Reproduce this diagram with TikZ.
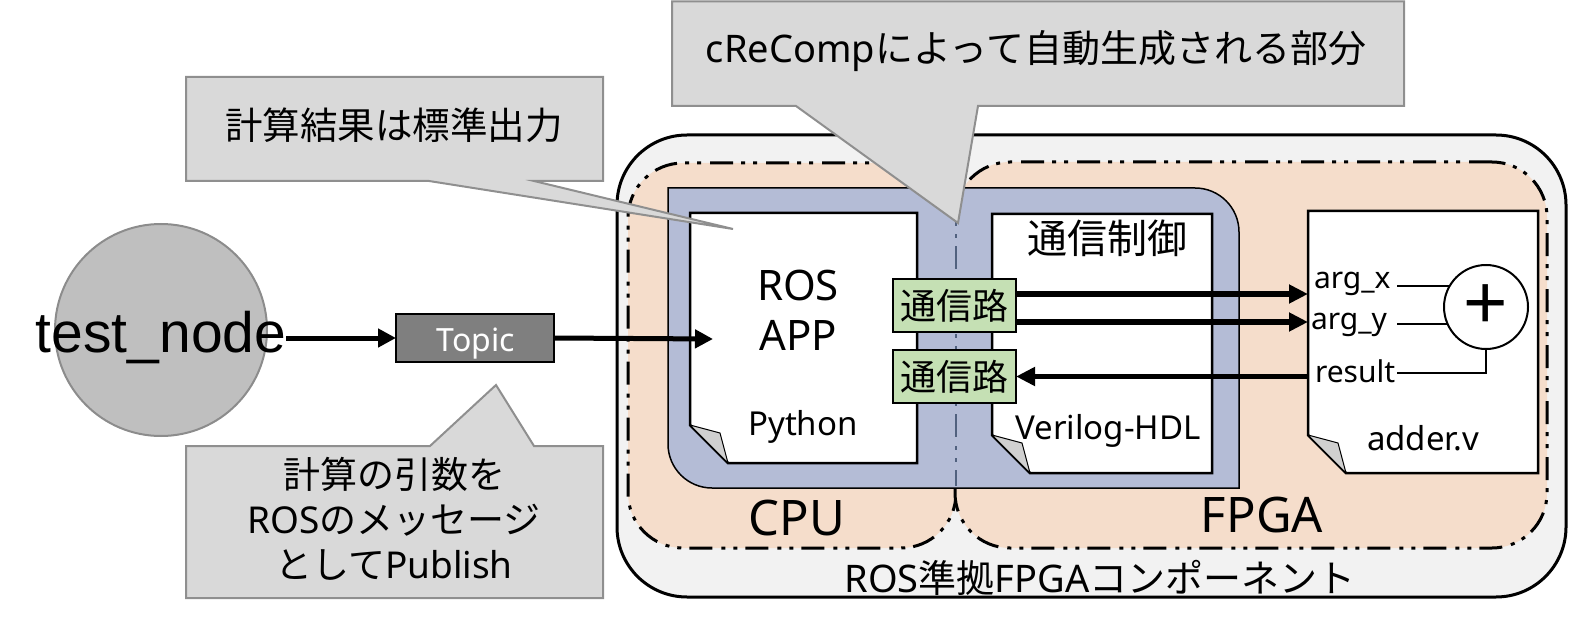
\documentclass[tikz,border=0pt]{standalone}
\usepackage{fontspec}
\setmainfont{Noto Sans}
\newfontfamily\jp{Noto Sans CJK JP}
\newfontfamily\arialf{Liberation Sans}
\usetikzlibrary{arrows.meta,calc}
\pgfdeclarelayer{fg}
\pgfsetlayers{main,fg}
\definecolor{outerfill}{HTML}{F2F2F2}
\definecolor{zonefill}{HTML}{F5DDCB}
\definecolor{bluefill}{HTML}{B4BCD6}
\definecolor{chanfill}{HTML}{C5E0B4}
\definecolor{foldfill}{HTML}{D0D0D0}
\definecolor{calloutfill}{HTML}{D9D9D9}
\definecolor{calloutline}{HTML}{8F8F8F}
\definecolor{dashblue}{HTML}{51617F}
\definecolor{topicfill}{HTML}{7F7F7F}
\definecolor{nodefill}{HTML}{BFBFBF}
\definecolor{nodeline}{HTML}{8C8C8C}
\newcommand\myfs[1]{\fontsize{#1}{#1}\selectfont}
\newcommand\foldeddoc[1]{%
  \draw[docline] (#1.north west) -- (#1.north east) -- (#1.south east)
    -- ([xshift=38pt]#1.south west) -- ([yshift=38pt]#1.south west) -- cycle;
  \draw[foldline] ([yshift=38pt]#1.south west) -- ([xshift=30pt,yshift=30pt]#1.south west)
    -- ([xshift=38pt]#1.south west) -- cycle;}
\begin{document}
\begin{tikzpicture}[x=1pt,y=-1pt,
  every node/.style={inner sep=0pt, outer sep=0pt},
  outerbox/.style={draw=black, line width=3pt, fill=outerfill, rounded corners=70pt},
  zone/.style={draw=black, line width=3pt, fill=zonefill, rounded corners=55pt,
    dash pattern=on 23pt off 9pt on 4pt off 8pt on 4pt off 8pt},
  bluebox/.style={draw=black, line width=1.5pt, fill=bluefill},
  docline/.style={draw=black, line width=2.5pt, fill=white, line join=miter},
  foldline/.style={draw=black, line width=1pt, fill=foldfill, line join=round},
  docarea/.style={rectangle},
  chan/.style={draw=black, line width=2pt, fill=chanfill, minimum width=123pt,
    minimum height=53pt, font=\jp\myfs{36}},
  bigarrow/.style={line width=5.5pt, -{Triangle[length=19pt,width=18pt]}},
  midarrow/.style={line width=5pt, -{Triangle[length=18pt,width=18pt]}},
  wire/.style={line width=2.5pt},
  callout/.style={draw=calloutline, line width=2pt, fill=calloutfill, line join=miter},
  lbl/.style={anchor=base},
]
\useasboundingbox (0,0) rectangle (1571,631);

% containers
\node[outerbox, minimum width=949pt, minimum height=462pt] (comp) at (1091.5,366) {};
\node[zone, minimum width=328pt, minimum height=385pt] (cpu) at (792,355.5) {};
\node[zone, minimum width=592pt, minimum height=386pt] (fpga) at (1251,355) {};

% generated part (blue)
\draw[bluebox] (668,188) -- (1195,188) arc[start angle=-90, end angle=0, radius=44]
  -- (1239,488) -- (712,488) arc[start angle=90, end angle=180, radius=44] -- cycle;
\draw[line width=2pt, draw=dashblue, dash pattern=on 23pt off 9pt on 4pt off 8pt on 4pt off 8pt]
  (955.5,190) -- (955.5,486);

% documents
\node[docarea, minimum width=227pt, minimum height=250pt] (pydoc) at (803.5,338) {};
\node[docarea, minimum width=220pt, minimum height=259pt] (vdoc) at (1102,343.5) {};
\node[docarea, minimum width=230pt, minimum height=262pt] (adder) at (1423,342) {};
\foldeddoc{pydoc}
\foldeddoc{vdoc}
\foldeddoc{adder}

% channels
\node[chan] (ch1) at (954.5,305.5) {通信路};
\node[chan] (ch2) at (954.5,376.5) {通信路};

% arrows between channels and adder
\draw[bigarrow] ([yshift=11.5pt]ch1.east) -- ([yshift=11.5pt]ch1.east -| adder.west);
\draw[bigarrow] ([yshift=-16.5pt]ch1.east) -- ([yshift=-16.5pt]ch1.east -| adder.west);
\draw[bigarrow] (ch2.east -| adder.west) -- (ch2.east);

% adder internals
\begin{pgfonlayer}{fg}
\node[circle, draw=black, line width=2pt, fill=white, minimum size=84pt] (plus) at (1486,307) {};
\node[font=\arialf\myfs{76}] (plussign) at (plus.center) {+};
\end{pgfonlayer}
\coordinate (ax) at (1397,286);
\coordinate (ay) at (1397,324);
\coordinate (rs) at (1397,373);
\draw[wire] (ax) -- (ax -| plus.center);
\draw[wire] (ay) -- (ay -| plus.center);
\draw[wire] (rs) -| (plus.south);
\node[font=\myfs{30}, anchor=base west] (argx) at (1314,288) {arg\_x};
\node[font=\myfs{30}, anchor=base west] (argy) at (1311,329) {arg\_y};
\node[font=\myfs{30}, anchor=base west] (res) at (1315,382) {result};

% texts in documents
\node[lbl, font=\myfs{42}] (ros) at (798,300) {ROS};
\node[lbl, font=\myfs{42}] (app) at (798,350) {APP};
\node[lbl, font=\myfs{33}] (python) at (803,435) {Python};
\node[lbl, font=\jp\myfs{40}] (ctrl) at (1107,253) {通信制御};
\node[lbl, font=\myfs{33}] (verilog) at (1108,439) {Verilog-HDL};
\node[lbl, font=\myfs{33}] (adderv) at (1423,450) {adder.v};

% zone labels
\node[lbl, font=\myfs{49}] (cpulbl) at (797,535) {CPU};
\node[lbl, font=\myfs{49}] (fpgalbl) at (1262,532) {FPGA};
\node[lbl, font=\myfs{38}] (complbl) at (1100,592) {ROS{\jp 準拠}FPGA{\jp コンポーネント}};

% test node and topic
\node[circle, draw=nodeline, line width=2pt, fill=nodefill, minimum size=212pt] (tncirc) at (161,330) {};
\node[lbl, font=\arialf\myfs{57}] (tn) at (161,352) {test\_node};
\node[draw=black, line width=2pt, fill=topicfill, minimum width=158pt, minimum height=48pt]
  (topic) at (475,338) {};
\node[lbl, text=white, font=\myfs{32}] (topiclbl) at (476,351) {Topic};
\coordinate (appin) at (713,339);
\draw[midarrow] (tn.east |- topic.west) -- (topic.west);
\draw[midarrow] (topic.east) -- (appin);

% callouts
\draw[callout] (186,77) -- (603,77) -- (603,181) -- (534,181) -- (733,229) -- (429,181)
  -- (186,181) -- cycle;
\node[lbl, font=\jp\myfs{37.5}] (c1) at (394,140) {計算結果は標準出力};

\draw[callout] (186,446) -- (430,446) -- (496,385) -- (534,446) -- (603,446) -- (603,598)
  -- (186,598) -- cycle;
\node[align=center, font=\fontsize{37}{45}\selectfont] (c2) at (394,519)
  {{\jp 計算の引数を}\\ROS{\jp のメッセージ}\\{\jp として}Publish};

\draw[callout] (672,1.5) -- (1404,1.5) -- (1404,106) -- (978,106) -- (958,223) -- (796,106)
  -- (672,106) -- cycle;
\node[lbl, font=\myfs{38}] (c3) at (1036,63) {cReComp{\jp によって自動生成される部分}};
\end{tikzpicture}
\end{document}
